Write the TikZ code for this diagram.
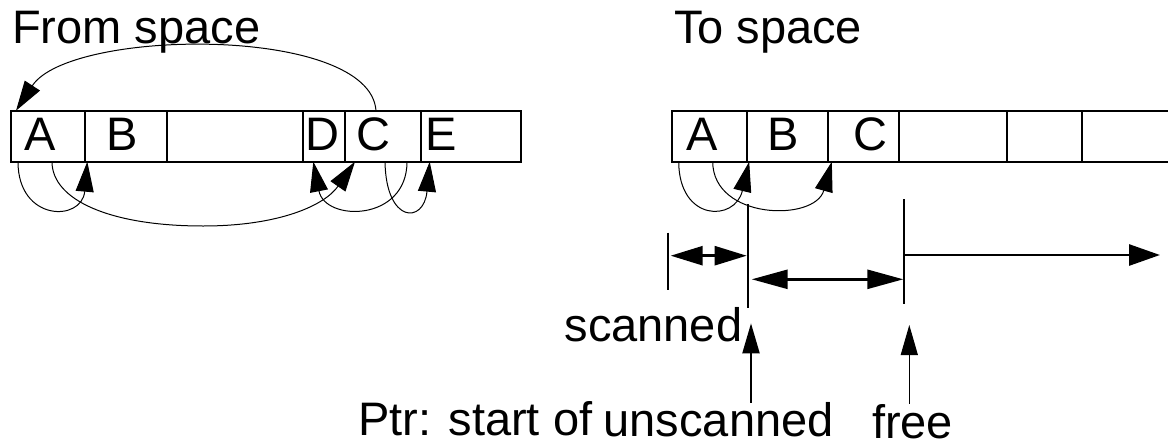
\documentclass[tikz,border=0pt]{standalone}
\usepackage{fontspec}
\setmainfont{Liberation Sans}
\usetikzlibrary{arrows.meta}
\tikzset{
  cell/.style={draw, line width=2pt, rectangle, inner sep=0pt, outer sep=0pt, minimum height=51pt, anchor=north west},
  letter/.style={anchor=base, inner sep=0pt, outer sep=0pt},
  lbl/.style={anchor=base west, inner sep=0pt, outer sep=0pt},
  lblflat/.style={lbl, text depth=0pt},
  ptr/.style={line width=1pt, -{Triangle[length=30pt,width=18pt]}},
  tick/.style={line width=2pt},
  dimtwo/.style={line width=2.6pt, {Triangle[length=#1,width=19pt]}-{Triangle[length=#1,width=19pt]}},
  dimone/.style={line width=2.8pt, -{Triangle[length=31pt,width=21pt]}},
  uparrow/.style={line width=#1, -{Triangle[length=30pt,width=17pt]}},
}
\begin{document}
\begin{tikzpicture}[x=1pt,y=-1pt, every node/.style={font=\fontsize{47pt}{56pt}\selectfont}]
\clip (0,0) rectangle (1168,442);
\fill[white] (0,0) rectangle (1168,442);

% titles
\node[lbl] (fromt) at (12.2,43.3) {From space};
\node[lbl] (tot) at (674,43.3) {To space};

% from space cells
\node[cell, minimum width=74.3pt] (fA) at (11,110.7) {};
\node[cell, minimum width=81.4pt] (fB) at (85.3,110.7) {};
\node[cell, minimum width=136.6pt] (fX) at (166.7,110.7) {};
\node[cell, minimum width=41.7pt] (fD) at (303.3,110.7) {};
\node[cell, minimum width=75.7pt] (fC) at (345,110.7) {};
\node[cell, minimum width=100.3pt] (fE) at (420.7,110.7) {};
\node[letter] (lfA) at (40,150) {A};
\node[letter] (lfB) at (121.7,150) {B};
\node[letter] (lfD) at (322.7,150) {D};
\node[letter] (lfC) at (373,150) {C};
\node[letter] (lfE) at (440.7,150) {E};

% to space cells
\node[cell, minimum width=75pt] (tA) at (671.7,110.7) {};
\node[cell, minimum width=81.6pt] (tB) at (746.7,110.7) {};
\node[cell, minimum width=71pt] (tC) at (828.3,110.7) {};
\node[cell, minimum width=107.4pt] (t4) at (899.3,110.7) {};
\node[cell, minimum width=75.3pt] (t5) at (1006.7,110.7) {};
\node[cell, minimum width=110pt] (t6) at (1082,110.7) {};
\node[letter] (ltA) at (701.7,150) {A};
\node[letter] (ltB) at (783.3,150) {B};
\node[letter] (ltC) at (870,150) {C};

% from space pointers
\draw[ptr] ([xshift=31pt]fC.north west) .. controls (370,25) and (70,28) .. ([xshift=5pt]fA.north west);
\draw[ptr] ([xshift=7pt]fA.south west) .. controls (18,222) and (82,222) .. ([xshift=2pt]fB.south west);
\draw[ptr] ([xshift=41pt]fA.south west) .. controls (52,200) and (110,226) .. (203,226) .. controls (280,226) and (325,205) .. ([xshift=10pt]fC.south west);
\draw[ptr] ([xshift=62pt]fC.south west) .. controls (407,222) and (325,222) .. ([xshift=10pt]fD.south west);
\draw[ptr] ([xshift=40pt]fC.south west) .. controls (386,224) and (424,224) .. ([xshift=9pt]fE.south west);

% to space pointers
\draw[ptr] ([xshift=7pt]tA.south west) .. controls (679,222) and (735,222) .. ([xshift=2.5pt]tB.south west);
\draw[ptr] ([xshift=41pt]tA.south west) .. controls (713,220) and (815,222) .. ([xshift=3.5pt]tC.south west);

% ticks
\coordinate (k0t) at (667.7,232.7); \coordinate (k0b) at (667.7,290);
\coordinate (k1t) at (747.7,204);   \coordinate (k1b) at (747.7,308.3);
\coordinate (k2t) at (904,199.3);   \coordinate (k2b) at (904,304.3);
\draw[tick] (k0t) -- (k0b);
\draw[tick] (k1t) -- (k1b);
\draw[tick] (k2t) -- (k2b);

% dimension arrows
\coordinate (d1l) at (670.7,255.7); \coordinate (d1r) at (746.7,255.7);
\coordinate (d2l) at (751.7,279.3); \coordinate (d2r) at (903.3,279.3);
\coordinate (d3l) at (904,255);     \coordinate (d3r) at (1160,255);
\draw[dimtwo=32pt] (d1l) -- (d1r);
\draw[dimtwo=36pt] (d2l) -- (d2r);
\draw[dimone] (d3l) -- (d3r);

% bottom labels
\node[lblflat] (scanned) at (564.5,341.7) {scanned};
\node[lblflat] (ptrl) at (358,435) {Ptr: start of};
\node[lblflat] (unsc) at (603.7,436.7) {unscanned};
\node[lblflat] (free) at (872,438) {free};

\coordinate (stip) at (751,323.3);
\coordinate (ftip) at (909.3,325);
\draw[uparrow=2pt] (stip |- unsc.north) -- (stip);
\draw[uparrow=1.2pt] (ftip |- free.north) -- (ftip);
\end{tikzpicture}
\end{document}
